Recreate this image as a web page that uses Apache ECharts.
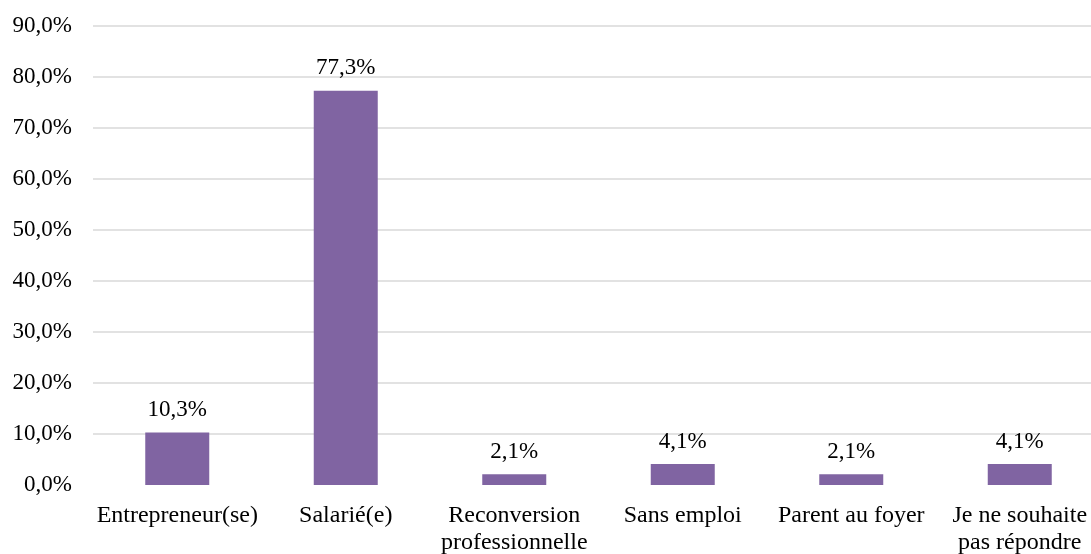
<!DOCTYPE html>
<html>
<head>
<meta charset="utf-8">
<script src="https://cdn.jsdelivr.net/npm/echarts@6/dist/echarts.min.js"></script>
<style>html,body{margin:0;padding:0;background:#fff;overflow:hidden;}#c{width:1091px;height:554px;}</style>
</head>
<body>
<div id="c"></div>
<script>
const categories = ['Entrepreneur(se)', 'Salarié(e)', 'Reconversion\nprofessionnelle', 'Sans emploi', 'Parent au foyer', 'Je ne souhaite\npas répondre'];
const values = [10.3, 77.3, 2.1, 4.1, 2.1, 4.1];
const yTicks = [0, 10, 20, 30, 40, 50, 60, 70, 80, 90];

const fmt = v => v.toFixed(1).replace('.', ',') + '%';
const font = '"Liberation Serif", "Times New Roman", serif';
const gridColors = yTicks.map((t, i) => i === 0 ? 'rgba(0,0,0,0)' : '#d9d9d9');

const chart = echarts.init(document.getElementById('c'));
chart.setOption({
  animation: false,
  textStyle: { fontFamily: font },
  grid: { left: 93, right: -13, top: 26, bottom: 69, containLabel: false, outerBoundsMode: 'none' },
  xAxis: {
    type: 'category',
    data: categories,
    axisLine: { show: false },
    axisTick: { show: false },
    axisLabel: { color: '#000', fontFamily: font, fontSize: 24, lineHeight: 27, margin: 17, interval: 0 }
  },
  yAxis: {
    type: 'value',
    min: yTicks[0],
    max: yTicks[yTicks.length - 1],
    interval: 10,
    axisLine: { show: false },
    axisTick: { show: false },
    axisLabel: { color: '#000', fontFamily: font, fontSize: 23, margin: 21, formatter: v => fmt(v) },
    splitLine: { show: true, lineStyle: { color: gridColors, width: 1.5 } }
  },
  series: [{
    type: 'bar',
    data: values,
    barWidth: 64,
    itemStyle: { color: '#8064A2' },
    label: { show: true, position: 'top', distance: 11, color: '#000', fontFamily: font, fontSize: 23, formatter: p => fmt(p.value) }
  }]
});
</script>
</body>
</html>
